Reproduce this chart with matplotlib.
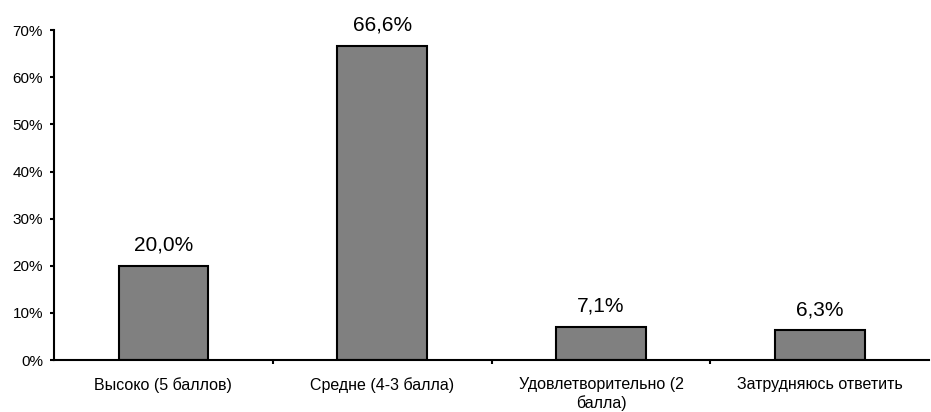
import numpy as np
import matplotlib
matplotlib.use("Agg")
from matplotlib import pyplot as plt
from matplotlib.ticker import FixedLocator, PercentFormatter

plt.rcParams['font.family'] = ['Liberation Sans', 'DejaVu Sans']

categories = ["Высоко (5 баллов)", "Средне (4-3 балла)",
              "Удовлетворительно (2\nбалла)", "Затрудняюсь ответить"]
values = [20.0, 66.6, 7.1, 6.3]
labels = ["20,0%", "66,6%", "7,1%", "6,3%"]

fig = plt.figure(figsize=(9.31, 4.12), dpi=100)
ax = fig.add_axes([0.058, 0.126, 0.940, 0.801])

x = np.arange(len(categories))
bars = ax.bar(x, values, width=0.41, color="#808080", edgecolor="black", linewidth=1.5)
for b, lab in zip(bars, labels):
    ax.annotate(lab, (b.get_x() + b.get_width() / 2, b.get_height()),
                xytext=(0, 8), textcoords="offset points",
                ha="center", va="bottom", fontsize=15)

ax.set_xlim(-0.5, len(categories) - 0.5)
ax.set_ylim(0, 70)
ax.set_yticks(np.arange(0, 71, 10))
ax.yaxis.set_major_formatter(PercentFormatter(decimals=0))
ax.set_xticks(x)
ax.set_xticklabels(categories, fontsize=11.5, linespacing=1.3)
ax.xaxis.set_minor_locator(FixedLocator([0.5, 1.5, 2.5]))
ax.tick_params(axis="x", which="major", length=0, pad=12)
ax.tick_params(axis="x", which="minor", length=3, width=1.5, direction="out")
ax.tick_params(axis="y", length=3, width=1.5, labelsize=11, pad=5)

for s in ["top", "right"]:
    ax.spines[s].set_visible(False)
for s in ["left", "bottom"]:
    ax.spines[s].set_linewidth(1.5)

fig.savefig("out.png", dpi=100)
